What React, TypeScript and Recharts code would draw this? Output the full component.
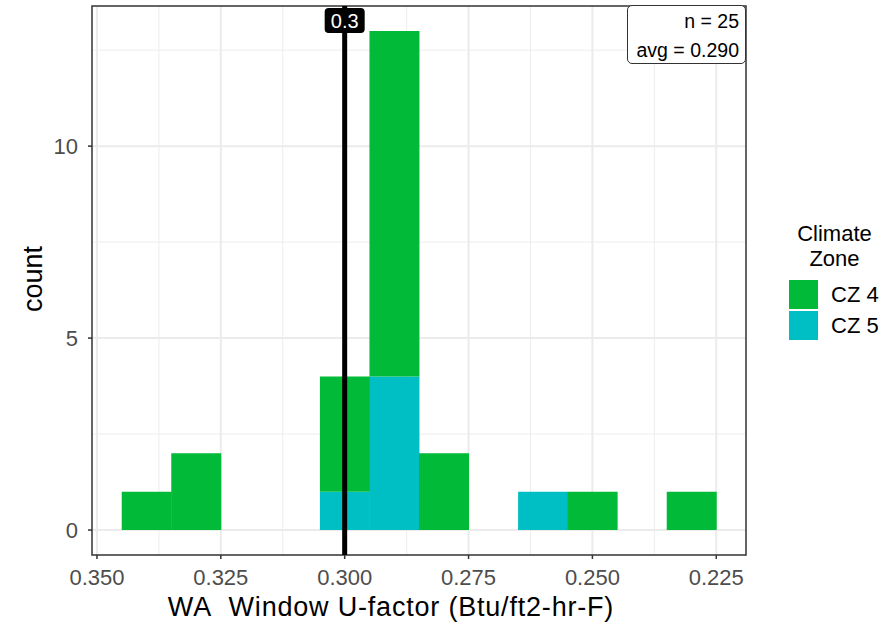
import {
  ComposedChart,
  Bar,
  XAxis,
  YAxis,
  CartesianGrid,
  ReferenceLine,
  ReferenceArea,
} from 'recharts';

const FONT = "'Liberation Sans', Arial, Helvetica, sans-serif";

// histogram bins (centres, width 0.01) and stacked counts per climate zone
const binMids = [0.34, 0.33, 0.32, 0.31, 0.3, 0.29, 0.28, 0.27, 0.26, 0.25, 0.24, 0.23];
const cz4Counts = [1, 2, 0, 0, 3, 9, 2, 0, 0, 1, 0, 1];
const cz5Counts = [0, 0, 0, 0, 1, 4, 0, 0, 1, 0, 0, 0];

const xTicks = [0.35, 0.325, 0.3, 0.275, 0.25, 0.225];
const xMinor = [0.3375, 0.3125, 0.2875, 0.2625, 0.2375];
const yTicks = [0, 5, 10];
const yMinor = [2.5, 7.5, 12.5];
const xDomain = [0.219, 0.351];
const yDomain = [-0.65, 13.65];

const refValue = 0.3;
const nObs = 25;
const avgValue = 0.29;

const seriesInfo = [
  { key: 'cz4', name: 'CZ 4', color: '#00BA38' },
  { key: 'cz5', name: 'CZ 5', color: '#00BFC4' },
];

export default function App() {
  const data = binMids.map((mid, i) => ({ mid, cz4: cz4Counts[i], cz5: cz5Counts[i] }));

  // black tag on top of the reference line
  const RefLabel = (props: any) => {
    const cx = props.viewBox ? props.viewBox.x : 0;
    return (
      <g>
        <rect x={cx - 20} y={8} width={40} height={25} rx={4} fill="#000" />
        <text x={cx} y={21} textAnchor="middle" dominantBaseline="central" fill="#fff" fontSize={20} fontFamily={FONT}>
          {String(refValue)}
        </text>
      </g>
    );
  };

  return (
    <div style={{ position: 'absolute', left: 0, top: 0, width: 885, height: 623, background: '#fff', fontFamily: FONT }}>
      <ComposedChart
        width={885}
        height={623}
        data={data}
        margin={{ top: 6, right: 139, bottom: 0, left: 0 }}
        barCategoryGap={0}
        barGap={0}
      >
        {/* minor + major grid */}
        <CartesianGrid verticalValues={xMinor} horizontalValues={yMinor} stroke="#EDEDED" strokeWidth={1} />
        <CartesianGrid verticalValues={xTicks} horizontalValues={yTicks} stroke="#EBEBEB" strokeWidth={2} />
        <XAxis
          type="number"
          dataKey="mid"
          domain={xDomain}
          allowDataOverflow
          reversed
          ticks={xTicks}
          interval={0}
          tickFormatter={(v: number) => v.toFixed(3)}
          height={68}
          axisLine={false}
          tickLine={{ stroke: '#333', strokeWidth: 1.5 }}
          tickSize={4}
          tickMargin={10}
          tick={{ fill: '#4D4D4D', fontSize: 22, fontFamily: FONT }}
          label={() => (
            <text x={391} y={616} textAnchor="middle" fill="#000" fontSize={27} letterSpacing={0.8} fontFamily={FONT}>
              {'WA\u00A0 Window U-factor (Btu/ft2-hr-F)'}
            </text>
          )}
        />
        <YAxis
          type="number"
          domain={yDomain}
          allowDataOverflow
          ticks={yTicks}
          interval={0}
          width={92}
          axisLine={false}
          tickLine={{ stroke: '#333', strokeWidth: 1.5 }}
          tickSize={4}
          tickMargin={10}
          tick={{ fill: '#4D4D4D', fontSize: 22, fontFamily: FONT }}
          label={() => (
            <text x={42} y={279} transform="rotate(-90, 42, 279)" textAnchor="middle" fill="#000" fontSize={27} fontFamily={FONT}>
              count
            </text>
          )}
        />
        <Bar dataKey="cz5" stackId="a" fill="#00BFC4" isAnimationActive={false} />
        <Bar dataKey="cz4" stackId="a" fill="#00BA38" isAnimationActive={false} />
        {/* panel border */}
        <ReferenceArea
          x1={xDomain[0]}
          x2={xDomain[1]}
          y1={yDomain[0]}
          y2={yDomain[1]}
          fill="none"
          fillOpacity={0}
          stroke="#333"
          strokeWidth={1.5}
          ifOverflow="visible"
        />
        <ReferenceLine x={refValue} stroke="#000" strokeWidth={5} label={<RefLabel />} />
      </ComposedChart>

      {/* n / avg annotation */}
      <div
        style={{
          position: 'absolute',
          left: 627,
          top: 5,
          width: 119,
          height: 59,
          boxSizing: 'border-box',
          border: '1.5px solid #333',
          borderRadius: 5,
          background: '#fff',
          textAlign: 'right',
          paddingRight: 6,
          paddingTop: 1,
          fontSize: 19.5,
          lineHeight: '29px',
          color: '#000',
        }}
      >
        <div>n = {nObs}</div>
        <div>avg = {avgValue.toFixed(3)}</div>
      </div>

      {/* legend */}
      <div style={{ position: 'absolute', left: 784, top: 221, width: 101, textAlign: 'center', fontSize: 22, lineHeight: '25px', color: '#000' }}>
        Climate
        <br />
        Zone
      </div>
      <div style={{ position: 'absolute', left: 789, top: 279 }}>
        {seriesInfo.map((s) => (
          <div key={s.key} style={{ display: 'flex', alignItems: 'center', height: 31 }}>
            <div style={{ width: 29, height: 29, background: s.color }} />
            <span style={{ marginLeft: 13, fontSize: 22, color: '#000' }}>{s.name}</span>
          </div>
        ))}
      </div>
    </div>
  );
}
